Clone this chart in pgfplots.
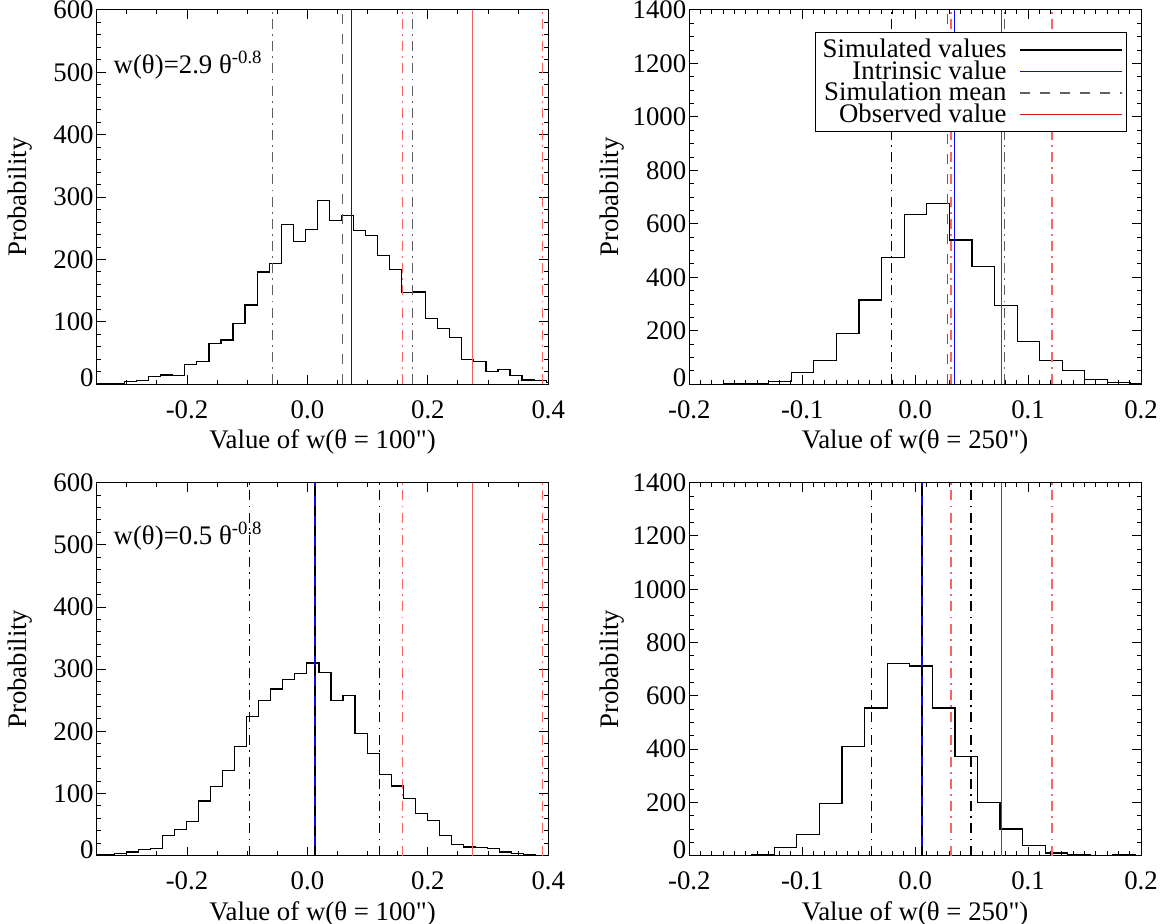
\documentclass[border=0pt]{standalone}
\usepackage{fontspec}
\setmainfont{Liberation Serif}[Ligatures=TeXOff]
\usepackage{pgfplots}
\pgfplotsset{compat=1.18}
\definecolor{obsred}{RGB}{245,95,95}
\definecolor{obsredR}{RGB}{225,20,20}
\definecolor{redda}{RGB}{250,100,100}
\definecolor{darkg}{RGB}{95,95,95}
\definecolor{intblue}{RGB}{10,10,235}
\newcommand\ff{\fontsize{13.4pt}{15pt}\selectfont}
\tikzset{
  dashdot/.style={dash pattern=on 5pt off 2.6pt on 0.9pt off 2.6pt},
  dashd/.style={dash pattern=on 5pt off 5pt},
}
\pgfplotsset{
  myaxis/.style={
    scale only axis,
    axis line style={line width=0.5pt},
    tick style={line width=0.5pt, black},
    major tick length=4.5pt, minor tick length=2.25pt,
    tick align=inside, xtick pos=both, ytick pos=both,
    every tick label/.append style={font=\ff},
    xticklabel style={yshift=-4.5pt},
    yticklabel style={xshift=2pt},
    every axis x label/.style={at={(axis description cs:0.5,0)}, anchor=center, yshift=-29pt, font=\ff},
    every axis y label/.style={at={(axis description cs:-0.1705,0.5)}, anchor=center, rotate=90, font=\ff},
    ylabel={Probability},
  },
  leftax/.style={myaxis, width=225.8pt,
    xmin=-0.35, xmax=0.4, ymin=0, ymax=600,
    xtick={-0.2,0,0.2,0.4}, xticklabels={-0.2,0.0,0.2,0.4},
    minor xtick={-0.35,-0.3,-0.25,-0.15,-0.1,-0.05,0.05,0.1,0.15,0.25,0.3,0.35},
    ytick={0,100,200,300,400,500,600},
    yticklabels={\raisebox{3.2pt}[\height][\depth]{0},100,200,300,400,500,600},
    minor y tick num=4,
    xlabel={Value of w(θ = 100")},
  },
  rightax/.style={myaxis, width=225.85pt,
    xmin=-0.2, xmax=0.2, ymin=0, ymax=1400,
    xtick={-0.2,-0.1,0,0.1,0.2}, xticklabels={-0.2,-0.1,0.0,0.1,0.2},
    minor x tick num=9,
    ytick={0,200,400,600,800,1000,1200,1400},
    yticklabels={\raisebox{3.2pt}[\height][\depth]{0},200,400,600,800,1000,1200,1400},
    minor y tick num=3,
    xlabel={Value of w(θ = 250")},
  },
  hist/.style={const plot, black, line width=0.6pt, forget plot},
}
\begin{document}
\begin{tikzpicture}
\useasboundingbox (0pt,0pt) rectangle (582pt,462pt);

% ---------------- top left ----------------
\begin{axis}[leftax, height=187.15pt, at={(48.35pt,269.85pt)}, anchor=south west]
\addplot[hist] coordinates {
(-0.35,1) (-0.3036,5) (-0.2836,6) (-0.2636,13) (-0.2436,15) (-0.2236,14)
(-0.2036,32) (-0.1836,36) (-0.1636,65) (-0.1436,71) (-0.1236,98) (-0.1036,127)
(-0.0836,180) (-0.0636,194) (-0.0436,256) (-0.0236,229) (-0.0036,248) (0.0164,295)
(0.0364,262) (0.0564,271) (0.0764,247) (0.0964,239) (0.1164,206) (0.1364,184)
(0.1564,147) (0.1764,148) (0.1964,105) (0.2164,89) (0.2364,75) (0.2564,40)
(0.2764,36) (0.2964,20) (0.3164,24) (0.3364,14) (0.3564,7) (0.3764,6)
(0.3964,3) (0.4,3)};
\addplot[darkg, line width=0.7pt, dashdot, forget plot] coordinates {(-0.058,0) (-0.058,600)};
\addplot[darkg, line width=0.7pt, dashd, forget plot] coordinates {(0.0585,0) (0.0585,600)};
\addplot[intblue, line width=0.5pt, forget plot] coordinates {(0.0734,0) (0.0734,600)};
\addplot[redda, line width=0.7pt, dashdot, forget plot] coordinates {(0.158,0) (0.158,600)};
\addplot[darkg, line width=0.7pt, dashdot, forget plot] coordinates {(0.1747,0) (0.1747,600)};
\addplot[obsred, line width=0.8pt, forget plot] coordinates {(0.2743,0) (0.2743,600)};
\addplot[redda, line width=0.7pt, dashdot, forget plot] coordinates {(0.3906,0) (0.3906,600)};
\node[anchor=base west, font=\ff, inner sep=0pt] at (rel axis cs:0.0368,0.829) {w(θ)=2.9 θ\textsuperscript{-0.8}};
\end{axis}

% ---------------- top right ----------------
\begin{axis}[rightax, height=187.15pt, at={(344.65pt,269.85pt)}, anchor=south west,
  legend style={at={(0.97,0.9404)}, anchor=north east, draw=black, line width=0.5pt,
    font=\ff, inner xsep=2pt, inner ysep=3.2pt, row sep=0pt,
    nodes={inner xsep=1.5pt, inner ysep=0pt},
    /tikz/every odd column/.append style={column sep=5pt}},
  legend plot pos=right, legend cell align=right,
  legend image code/.code={\draw[#1] (0pt,0pt) -- (42pt,0pt); \path (0pt,0pt) -- (51pt,0pt);}]
\addplot[hist] coordinates {
(-0.2,0) (-0.1897,0) (-0.1697,1) (-0.1497,2) (-0.1297,11) (-0.1097,44)
(-0.0897,90) (-0.0697,190) (-0.0497,315) (-0.0297,475) (-0.0097,636) (0.0103,675)
(0.0303,540) (0.0503,440) (0.0703,295) (0.0903,159) (0.1103,90) (0.1303,52)
(0.1503,17) (0.1703,6) (0.1903,2) (0.2,2)};
\addplot[black, line width=0.6pt, dashdot, forget plot] coordinates {(-0.0208,0) (-0.0208,1400)};
\addplot[darkg, line width=0.7pt, dashd, forget plot] coordinates {(0.0285,0) (0.0285,1400)};
\addplot[redda, line width=0.7pt, dashdot, forget plot] coordinates {(0.0317,0) (0.0317,1400)};
\addplot[intblue, line width=0.5pt, forget plot] coordinates {(0.0347,0) (0.0347,1400)};
\addplot[obsredR, line width=0.5pt, forget plot] coordinates {(0.0766,0) (0.0766,1400)};
\addplot[darkg, line width=0.7pt, dashdot, forget plot] coordinates {(0.079,0) (0.079,1400)};
\addplot[redda, line width=0.7pt, dashdot, forget plot] coordinates {(0.1212,0) (0.1212,1400)};
\addlegendimage{black, line width=0.6pt}
\addlegendentry{Simulated values}
\addlegendimage{intblue, line width=0.6pt}
\addlegendentry{Intrinsic value}
\addlegendimage{darkg, line width=0.7pt, dashd}
\addlegendentry{Simulation mean}
\addlegendimage{obsredR, line width=0.6pt}
\addlegendentry{Observed value}
\end{axis}

% ---------------- bottom left ----------------
\begin{axis}[leftax, height=186.5pt, at={(48.35pt,34.15pt)}, anchor=south west]
\addplot[hist] coordinates {
(-0.35,1) (-0.3209,4) (-0.3009,6) (-0.2809,10) (-0.2609,11) (-0.2409,33)
(-0.2209,42) (-0.2009,55) (-0.1809,88) (-0.1609,111) (-0.1409,137) (-0.1209,176)
(-0.1009,224) (-0.0809,250) (-0.0609,268) (-0.0409,284) (-0.0209,293) (-0.0009,310)
(0.0191,295) (0.0391,249) (0.0591,258) (0.0791,196) (0.0991,165) (0.1191,130)
(0.1391,112) (0.1591,92) (0.1791,68) (0.1991,56) (0.2191,33) (0.2391,18)
(0.2591,14) (0.2791,13) (0.2991,11) (0.3191,6) (0.3391,4) (0.3591,1)
(0.3791,0.5) (0.4,0.5)};
\addplot[black, line width=0.6pt, dashdot, forget plot] coordinates {(-0.0965,0) (-0.0965,600)};
\addplot[intblue, line width=0.8pt, forget plot] coordinates {(0.0125,0) (0.0125,600)};
\addplot[black, line width=0.6pt, dashd, forget plot] coordinates {(0.0125,0) (0.0125,600)};
\addplot[black, line width=0.6pt, dashdot, forget plot] coordinates {(0.1194,0) (0.1194,600)};
\addplot[redda, line width=0.7pt, dashdot, forget plot] coordinates {(0.1581,0) (0.1581,600)};
\addplot[obsred, line width=0.8pt, forget plot] coordinates {(0.2743,0) (0.2743,600)};
\addplot[redda, line width=0.7pt, dashdot, forget plot] coordinates {(0.3906,0) (0.3906,600)};
\node[anchor=base west, font=\ff, inner sep=0pt] at (rel axis cs:0.0368,0.833) {w(θ)=0.5 θ\textsuperscript{-0.8}};
\end{axis}

% ---------------- bottom right ----------------
\begin{axis}[rightax, height=186.5pt, at={(344.65pt,34.15pt)}, anchor=south west]
\addplot[hist] coordinates {
(-0.2,0) (-0.1648,1) (-0.1448,4) (-0.1248,32) (-0.1048,81) (-0.0848,197)
(-0.0648,410) (-0.0448,554) (-0.0248,720) (-0.0048,712) (0.0152,554) (0.0352,372)
(0.0552,200) (0.0752,100) (0.0952,37) (0.1152,10) (0.1352,4) (0.1552,0)
(0.1752,3) (0.1952,0) (0.2,0)};
\addplot[black, line width=0.6pt, dashdot, forget plot] coordinates {(-0.0385,0) (-0.0385,1400)};
\addplot[intblue, line width=0.8pt, forget plot] coordinates {(0.006,0) (0.006,1400)};
\addplot[black, line width=0.6pt, dashd, forget plot] coordinates {(0.006,0) (0.006,1400)};
\addplot[redda, line width=0.7pt, dashdot, forget plot] coordinates {(0.0317,0) (0.0317,1400)};
\addplot[black, line width=0.6pt, dashdot, forget plot] coordinates {(0.0494,0) (0.0494,1400)};
\addplot[obsredR, line width=0.5pt, forget plot] coordinates {(0.0766,0) (0.0766,1400)};
\addplot[redda, line width=0.7pt, dashdot, forget plot] coordinates {(0.1212,0) (0.1212,1400)};
\end{axis}
\end{tikzpicture}
\end{document}
